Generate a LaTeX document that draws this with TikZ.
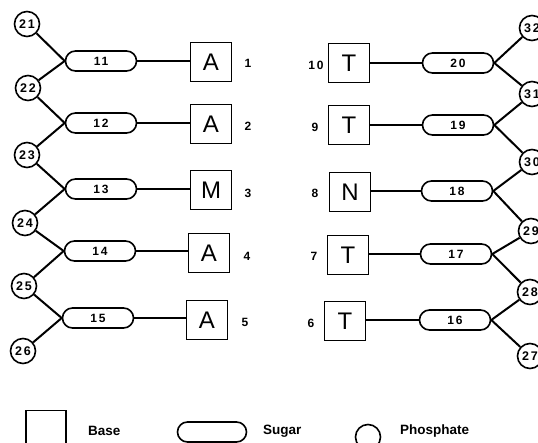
\documentclass[tikz,border=0pt]{standalone}
\usepackage{fontspec}
\setmainfont{Liberation Sans}
\newfontfamily\numfont[LetterSpace=15]{Liberation Sans}
\usetikzlibrary{shapes.misc}
\tikzset{
  base/.style={draw, line width=1.6pt, minimum width=41pt, minimum height=39pt,
    inner sep=0pt, font=\fontsize{24}{24}\selectfont},
  sugar/.style={draw, rounded rectangle, line width=1.6pt, minimum width=71pt,
    minimum height=20pt, inner sep=0pt, font=\numfont\bfseries\fontsize{12}{12}\selectfont},
  phos/.style={draw, circle, line width=1.6pt, minimum size=25pt, inner sep=0pt,
    font=\numfont\bfseries\fontsize{12.5}{12.5}\selectfont},
  idx/.style={font=\numfont\bfseries\fontsize{12}{12}\selectfont, inner sep=0pt},
  legtext/.style={font=\bfseries\fontsize{13.5}{13.5}\selectfont, anchor=west, inner sep=0pt},
  bond/.style={line width=2pt}
}
\begin{document}
\begin{tikzpicture}[x=1pt, y=-1pt]
\useasboundingbox (0,0) rectangle (538,443);
\clip (0,0) rectangle (538,443);

% left strand: phosphates
\node[phos] (p21) at (27,24) {21};
\node[phos] (p22) at (28,88) {22};
\node[phos] (p23) at (27,155) {23};
\node[phos] (p24) at (25,223) {24};
\node[phos] (p25) at (24,286) {25};
\node[phos] (p26) at (23,351) {26};

% left strand: sugars
\node[sugar] (s11) at (101,61) {11};
\node[sugar] (s12) at (101,123) {12};
\node[sugar] (s13) at (101,189) {13};
\node[sugar] (s14) at (100,251) {14};
\node[sugar] (s15) at (98,318) {15};

% left strand: bases
\node[base] (b1) at (211,62) {A};
\node[base] (b2) at (211,124) {A};
\node[base] (b3) at (211,190) {M};
\node[base] (b4) at (209,253) {A};
\node[base] (b5) at (207,320) {A};

\node[idx] (n1) at (248,63) {1};
\node[idx] (n2) at (248,126) {2};
\node[idx] (n3) at (248,193) {3};
\node[idx] (n4) at (247,256) {4};
\node[idx] (n5) at (245,322) {5};

% right strand: bases
\node[base] (b10) at (349,63) {T};
\node[base] (b9) at (349,125) {T};
\node[base] (b8) at (350,192) {N};
\node[base] (b7) at (348,255) {T};
\node[base] (b6) at (345,321) {T};

\node[idx] (n10) at (316,65) {10};
\node[idx] (n9) at (315,127) {9};
\node[idx] (n8) at (315,193) {8};
\node[idx] (n7) at (314,256) {7};
\node[idx] (n6) at (311,323) {6};

% right strand: sugars
\node[sugar] (s20) at (458,63) {20};
\node[sugar] (s19) at (458,125) {19};
\node[sugar] (s18) at (457,191) {18};
\node[sugar] (s17) at (456,254) {17};
\node[sugar] (s16) at (455,320) {16};

% right strand: phosphates
\node[phos] (p32) at (532,28) {32};
\node[phos] (p31) at (532,94) {31};
\node[phos] (p30) at (532,162) {30};
\node[phos] (p29) at (531,231) {29};
\node[phos] (p28) at (530,292) {28};
\node[phos] (p27) at (530,356) {27};

% sugar--base bonds
\foreach \s/\b in {s11/b1, s12/b2, s13/b3, s14/b4, s15/b5}
  \draw[bond] (\s.east) -- (\s.east -| \b.west);
\foreach \s/\b in {s20/b10, s19/b9, s18/b8, s17/b7, s16/b6}
  \draw[bond] (\s.west) -- (\s.west -| \b.east);

% backbone bonds
\foreach \pa/\s/\pb in {p21/s11/p22, p22/s12/p23, p23/s13/p24, p24/s14/p25, p25/s15/p26}
  \draw[bond] (\pa) -- (\s.west) -- (\pb);
\foreach \pa/\s/\pb in {p32/s20/p31, p31/s19/p30, p30/s18/p29, p29/s17/p28, p28/s16/p27}
  \draw[bond] (\pa) -- (\s.east) -- (\pb);

% legend
\node[base, minimum width=40pt] (lb) at (46,430) {};
\node[legtext] (lbt) at (88,431) {Base};
\node[sugar, minimum width=69pt] (ls) at (212,432) {};
\node[legtext] (lst) at (263,431) {Sugar};
\node[phos] (lp) at (368,437) {};
\node[legtext] (lpt) at (400,431) {Phosphate};
\end{tikzpicture}
\end{document}
